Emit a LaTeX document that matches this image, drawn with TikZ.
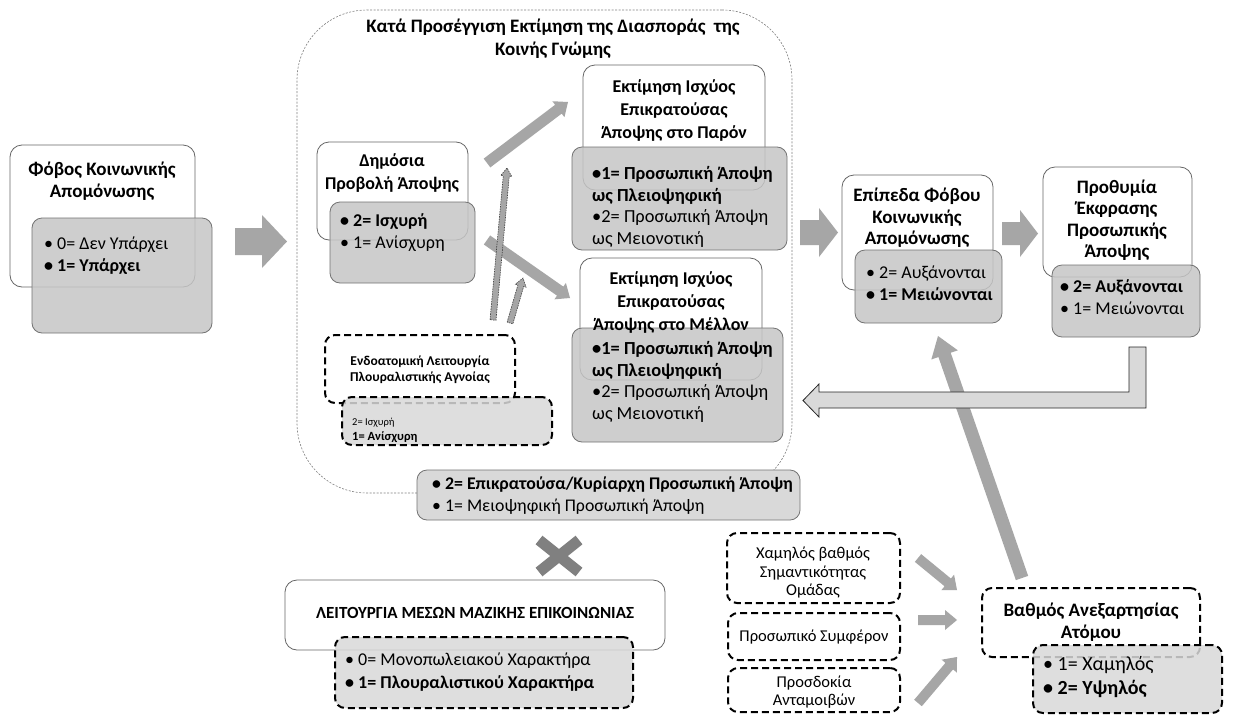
\documentclass[tikz,border=0pt]{standalone}
\usepackage{fontspec}
\setmainfont{Carlito}
\usetikzlibrary{calc,fit}

% βέλος-μπλοκ: στυλ, από, προς, μισό πάχος, μισό πλάτος κεφαλής, μήκος κεφαλής
\newcommand{\blockarr}[6]{%
  \path[#1] ($(#2)!#4!90:(#3)$) -- ($($(#3)!#6!(#2)$)!#4!90:(#3)$)
    -- ($($(#3)!#6!(#2)$)!#5!90:(#3)$) -- (#3)
    -- ($($(#3)!#6!(#2)$)!#5!-90:(#3)$) -- ($($(#3)!#6!(#2)$)!#4!-90:(#3)$)
    -- ($(#2)!#4!-90:(#3)$) -- cycle;}

\begin{document}
\begin{tikzpicture}
  [x=1pt, y=-1pt,
   wbox/.style={draw=black!60, fill=white, rounded corners=12pt, line width=0.8pt, inner sep=0pt},
   gbox/.style={draw=black!55, fill=gray!45, fill opacity=0.85, rounded corners=10pt, line width=0.8pt, inner sep=0pt},
   dbox/.style={draw=black, dash pattern=on 7pt off 4pt, line width=2pt, fill=white, rounded corners=10pt, inner sep=0pt},
   dgbox/.style={dbox, fill=gray!30, fill opacity=0.85},
   frame/.style={draw=black!50, dash pattern=on 2pt off 1.5pt, line width=0.6pt, rounded corners=70pt, inner sep=0pt},
   arr/.style={fill=gray!70},
   darr/.style={fill=gray!70, draw=black!75, dash pattern=on 1.5pt off 1pt, line width=0.6pt},
   retarr/.style={fill=gray!30, draw=black!85, line width=0.8pt},
   ttl/.style={align=center, inner sep=0pt, font=\bfseries\fontsize{19}{21.5}\selectfont},
   sttl/.style={align=center, inner sep=0pt, font=\bfseries\fontsize{18}{23}\selectfont},
   tinyttl/.style={align=center, inner sep=0pt, font=\bfseries\fontsize{13.5}{16}\selectfont},
   lst/.style={align=left, anchor=west, inner sep=0pt, font=\fontsize{18.4}{22}\selectfont},
   slst/.style={align=left, anchor=west, inner sep=0pt, font=\fontsize{18}{22}\selectfont},
   tinylst/.style={align=left, anchor=west, inner sep=0pt, font=\fontsize{12.5}{15}\selectfont},
   plain/.style={align=center, inner sep=0pt, font=\fontsize{16.5}{18.5}\selectfont}]

  \useasboundingbox[fill=white] (0,0) rectangle (1241,715);

  % Πλαίσιο διασποράς
  \node[frame, fit={(297,10) (792,493)}] (frm) {};
  \node[sttl, font=\bfseries\fontsize{19}{23}\selectfont] (frmT) at (553,39) {Κατά Προσέγγιση Εκτίμηση της Διασποράς~ της\\Κοινής Γνώμης};

  % Κουτιά
  \node[wbox, fit={(10,145) (195,287)}] (fobosW) {};
  \node[gbox, fit={(32,218) (212,333)}] (fobosG) {};
  \node[wbox, fit={(317,142) (468,240)}] (dpW) {};
  \node[gbox, fit={(330,202) (475,283)}] (dpG) {};
  \node[wbox, fit={(583,65) (765,190)}] (parW) {};
  \node[gbox, fit={(572,147) (787,250)}] (parG) {};
  \node[wbox, fit={(580,258) (762,380)}] (melW) {};
  \node[gbox, fit={(572,328) (783,442)}] (melG) {};
  \node[dbox, fit={(325,335) (515,403)}] (endoW) {};
  \node[dgbox, fit={(342,397) (552,445)}] (endoG) {};
  \node[gbox, fill=gray!30, fill opacity=1, fit={(417,470) (800,520)}] (epkG) {};
  \node[wbox, fit={(285,580) (665,650)}] (mmeW) {};
  \node[dgbox, fit={(335,637) (633,708)}] (mmeG) {};
  \node[wbox, fit={(842,175) (993,290)}] (epW) {};
  \node[gbox, fit={(855,250) (1002,323)}] (epG) {};
  \node[wbox, fit={(1043,167) (1192,277)}] (prW) {};
  \node[gbox, fit={(1052,265) (1200,337)}] (prG) {};
  \node[dbox, fit={(727,533) (900,603)}] (xamD) {};
  \node[dbox, fit={(728,613) (900,660)}] (symD) {};
  \node[dbox, fit={(728,668) (900,712)}] (prsD) {};
  \node[dbox, fit={(982,588) (1200,657)}] (vaW) {};
  \node[dgbox, fit={(1033,645) (1222,713)}] (vaG) {};

  % Κείμενα
  \node[ttl] (fobosT) at (102,181) {Φόβος Κοινωνικής\\Απομόνωσης};
  \node[slst] (fobosL) at (44,256) {• 0= Δεν Υπάρχει\\\textbf{• 1= Υπάρχει}};
  \node[sttl] (dpT) at (392,173) {Δημόσια\\Προβολή Άποψης};
  \node[slst] (dpL) at (340,233) {\textbf{• 2= Ισχυρή}\\• 1= Ανίσχυρη};
  \node[sttl] (parT) at (674,110) {Εκτίμηση Ισχύος\\Επικρατούσας\\Άποψης στο Παρόν};
  \node[lst, font=\fontsize{18.4}{21.5}\selectfont] (parL) at (592,207) {\textbf{•1= Προσωπική Άποψη}\\\textbf{ως Πλειοψηφική}\\•2= Προσωπική Άποψη\\ως Μειονοτική};
  \node[sttl] (melT) at (671,302) {Εκτίμηση Ισχύος\\Επικρατούσας\\Άποψης στο Μέλλον};
  \node[lst, font=\fontsize{18.4}{21.5}\selectfont] (melL) at (592,382) {\textbf{•1= Προσωπική Άποψη}\\\textbf{ως Πλειοψηφική}\\•2= Προσωπική Άποψη\\ως Μειονοτική};
  \node[tinyttl] (endoT) at (420,370) {Ενδοατομική Λειτουργία\\Πλουραλιστικής Αγνοίας};
  \node[tinylst] (endoL) at (352,430) {{\fontsize{10.5}{15}\selectfont 2= Ισχυρή}\\\textbf{1= Ανίσχυρη}};
  \node[lst, font=\fontsize{17.8}{22}\selectfont] (epkL) at (432,496) {\textbf{• 2= Επικρατούσα/Κυρίαρχη Προσωπική Άποψη}\\• 1= Μειοψηφική Προσωπική Άποψη};
  \node[sttl, font=\bfseries\fontsize{17}{23}\selectfont] (mmeT) at (475,613) {ΛΕΙΤΟΥΡΓΙΑ ΜΕΣΩΝ ΜΑΖΙΚΗΣ ΕΠΙΚΟΙΝΩΝΙΑΣ};
  \node[lst, font=\fontsize{18}{23}\selectfont] (mmeL) at (345,672) {• 0= Μονοπωλειακού Χαρακτήρα\\\textbf{• 1= Πλουραλιστικού Χαρακτήρα}};
  \node[ttl] (epT) at (917,218) {Επίπεδα Φόβου\\Κοινωνικής\\Απομόνωσης};
  \node[slst] (epL) at (866,283) {• 2= Αυξάνονται\\\textbf{• 1= Μειώνονται}};
  \node[ttl] (prT) at (1117,220) {Προθυμία\\Έκφρασης\\Προσωπικής\\Άποψης};
  \node[slst] (prL) at (1060,297) {\textbf{• 2= Αυξάνονται}\\• 1= Μειώνονται};
  \node[plain] (xamT) at (813,573) {Χαμηλός βαθμός\\Σημαντικότητας\\Ομάδας};
  \node[plain] (symT) at (814,637) {Προσωπικό Συμφέρον};
  \node[plain] (prsT) at (814,692) {Προσδοκία\\Ανταμοιβών};
  \node[sttl, font=\bfseries\fontsize{19}{22}\selectfont] (vaT) at (1091,622) {Βαθμός Ανεξαρτησίας\\Ατόμου};
  \node[slst, font=\fontsize{20}{24}\selectfont] (vaL) at (1043,677) {• 1= Χαμηλός\\\textbf{• 2= Υψηλός}};

  % Άκρα βελών
  \coordinate (a1) at (235,241.5);  \coordinate (b1) at (287,241.5);
  \coordinate (a2) at (800,232.5);  \coordinate (b2) at (838,232.5);
  \coordinate (a3) at (1002,233.5); \coordinate (b3) at (1038,233.5);
  \coordinate (a4) at (487,163);    \coordinate (b4) at (568,102);
  \coordinate (a5) at (487,240);    \coordinate (b5) at (570,298);
  \coordinate (a6) at (493,320);    \coordinate (b6) at (507,168);
  \coordinate (a7) at (510,323);    \coordinate (b7) at (523,278);
  \coordinate (a8) at (1022,578);   \coordinate (b8) at (938,336);
  \coordinate (a9) at (918,558);    \coordinate (b9) at (957,590);
  \coordinate (a10) at (918,620);   \coordinate (b10) at (957,620);
  \coordinate (a11) at (918,703);   \coordinate (b11) at (957,657);
  \coordinate (retS) at (1137.5,347); \coordinate (retE) at (803,400.5);

  % Βέλη
  \blockarr{arr}{a1}{b1}{13.5pt}{26.5pt}{25pt}
  \blockarr{arr}{a2}{b2}{12.5pt}{24.5pt}{19pt}
  \blockarr{arr}{a3}{b3}{11.5pt}{23.5pt}{18pt}
  \blockarr{arr}{a4}{b4}{5.5pt}{10pt}{12pt}
  \blockarr{arr}{a5}{b5}{5.5pt}{10pt}{12pt}
  \blockarr{darr}{a6}{b6}{3pt}{5.5pt}{8pt}
  \blockarr{darr}{a7}{b7}{3pt}{5.5pt}{8pt}
  \blockarr{arr}{a8}{b8}{6.5pt}{14pt}{20pt}
  \blockarr{arr}{a9}{b9}{5pt}{10pt}{12pt}
  \blockarr{arr}{a10}{b10}{5pt}{10pt}{12pt}
  \blockarr{arr}{a11}{b11}{5pt}{10pt}{12pt}

  % Βέλος επιστροφής
  \draw[retarr] ([xshift=-8.5pt]retS) -- ([xshift=8.5pt]retS) -- ++(0,61) -- (819,408)
    -- (819,417) -- (retE) -- (819,384) -- (819,392) -- (1129,392) -- cycle;

  % Σύμβολο Χ
  \draw[gray, line width=11pt] (539,540) -- (579,572) (539,572) -- (579,540);
\end{tikzpicture}
\end{document}
